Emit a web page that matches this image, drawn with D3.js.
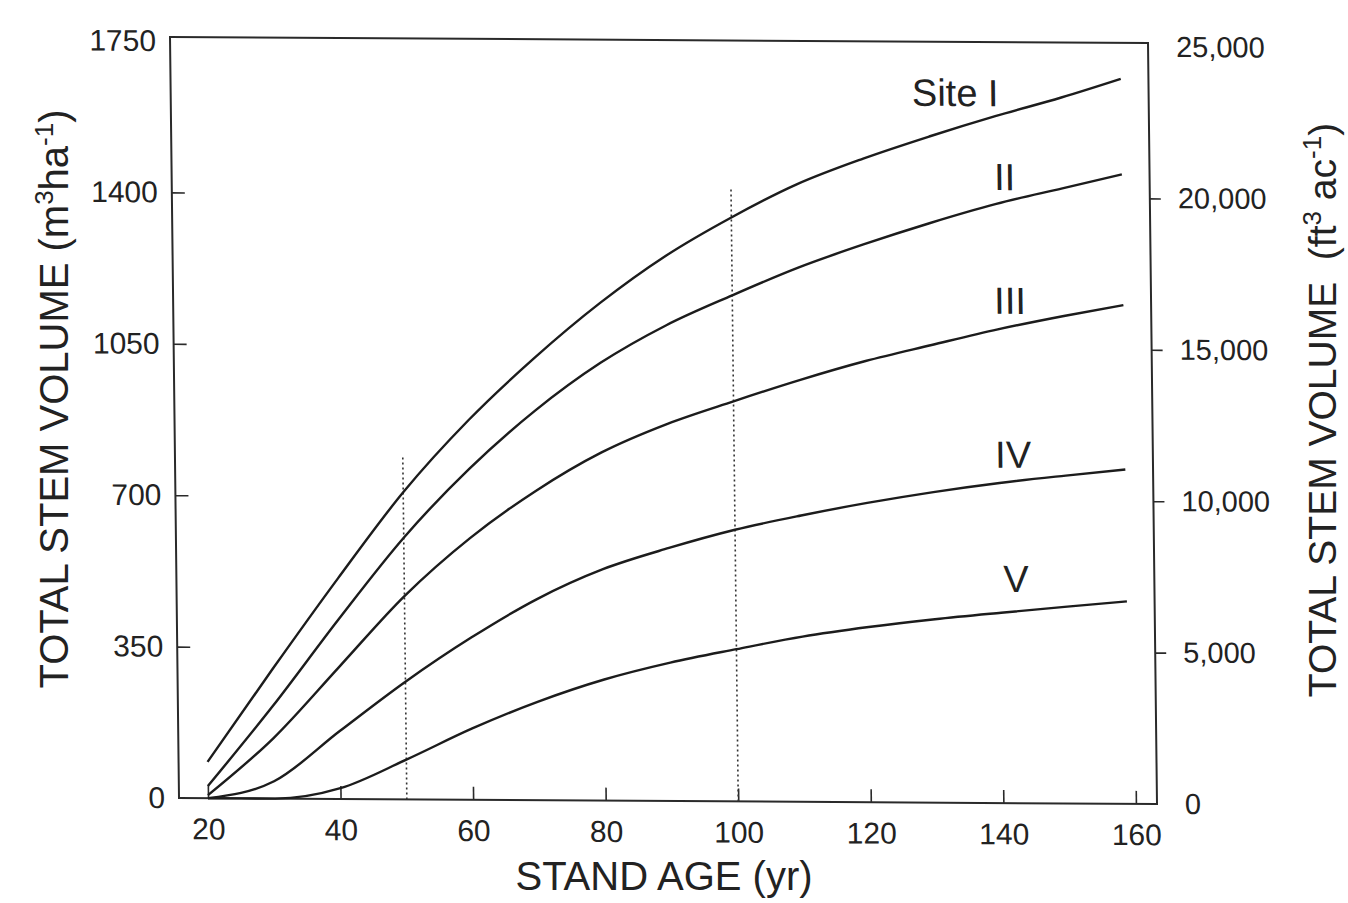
<!DOCTYPE html>
<html>
<head>
<meta charset="utf-8">
<script src="https://cdn.jsdelivr.net/npm/d3@7"></script>
<style>
    body { margin: 0; background: #fff; }
    text { font-family: 'Liberation Sans', Arial, sans-serif; fill: #222; }
</style>
</head>
<body>
<svg id="chart" width="1348" height="903"></svg>
<script>
// stand age (yr)
const ages = [20, 30, 40, 50, 60, 70, 80, 90, 100, 110, 120, 130, 140, 150, 159];
// total stem volume, m3/ha, by site class
const siteI = [84, 300, 510, 710, 878, 1022, 1150, 1260, 1350, 1428, 1488, 1540, 1588, 1632, 1676];
const siteII = [28, 215, 415, 605, 765, 900, 1012, 1100, 1170, 1235, 1290, 1340, 1385, 1422, 1455];
const siteIII = [7, 140, 305, 470, 605, 715, 805, 872, 925, 975, 1020, 1058, 1095, 1127, 1153];
const siteIV = [0, 40, 157, 272, 375, 465, 535, 585, 628, 662, 692, 718, 740, 758, 773];
const siteV = [0, 0, 25, 92, 165, 228, 280, 320, 352, 382, 405, 424, 440, 455, 468];

const siteNames = ['Site I', 'II', 'III', 'IV', 'V'];
const labelAges = [134, 141.3, 141.9, 142.1, 142.3];
const labelValues = [1611, 1417, 1131, 775, 488];

// dotted reference ages and how high they reach
const refAges = [50, 100];
const refTops = [794, 1418];

const xTicks = [20, 40, 60, 80, 100, 120, 140, 160];
const leftTicks = [0, 350, 700, 1050, 1400, 1750];
const rightTicks = [0, 5000, 10000, 15000, 20000, 25000];

const series = [siteI, siteII, siteIII, siteIV, siteV];

const width = 978;
const height = 761;

const svg = d3.select('#chart');
// the scanned figure is a little skewed, follow it
const g = svg.append('g')
.attr('transform', 'matrix(1,0.00614,0.01183,1,170,37)');

const x = d3.scaleLinear().domain([ 20, 160 ]).range([ 29, 29 + 140 * 6.628 ]);
const yL = d3.scaleLinear().domain([ 0, 1750 ]).range([ height, 4 ]);
const yR = d3.scaleLinear().domain([ 0, 25000 ]).range([ height, 4 ]);

// frame
g.append('rect')
.attr('width', width)
.attr('height', height)
.attr('fill', 'none')
.attr('stroke', '#2a2a2a')
.attr('stroke-width', 2);

const xAxis = g.append('g')
.attr('transform', 'translate(0,' + height + ')')
.call(d3.axisBottom(x).tickValues(xTicks).tickSizeInner(-13).tickSizeOuter(0).tickPadding(20));

const leftAxis = g.append('g')
.call(d3.axisLeft(yL).tickValues(leftTicks).tickFormat(d3.format('d')).tickSizeInner(-13).tickSizeOuter(0).tickPadding(14));

const rightAxis = g.append('g')
.attr('transform', 'translate(' + width + ',0)')
.call(d3.axisRight(yR).tickValues(rightTicks).tickFormat(d3.format(',')).tickSizeInner(11).tickSizeOuter(0).tickPadding(17));

[ xAxis, leftAxis, rightAxis ].forEach(ax => {
    ax.select('.domain').remove();
    ax.selectAll('line').attr('stroke', '#2a2a2a').attr('stroke-width', 1.6);
    ax.selectAll('text').attr('fill', '#222').style('font-size', '30px');
});
rightAxis.selectAll('text').style('font-size', '29px').attr('fill', '#333');
leftAxis.selectAll('.tick').filter(d => d === 0 || d === 1750).select('line').remove();
rightAxis.selectAll('.tick').filter(d => d === 0 || d === 25000).select('line').remove();

// dotted reference lines
g.selectAll('.ref')
.data(refAges)
.enter()
.append('line')
.attr('class', 'ref')
.attr('x1', d => x(d))
.attr('x2', d => x(d))
.attr('y1', yL(0))
.attr('y2', (d, i) => yL(refTops[i]))
.attr('stroke', '#333')
.attr('stroke-width', 1.6)
.attr('stroke-dasharray', '2,3');

const line = d3.line()
.x((d, i) => x(ages[i]))
.y(d => yL(d))
.curve(d3.curveMonotoneX);

g.selectAll('.site')
.data(series)
.enter()
.append('path')
.attr('class', 'site')
.attr('d', line)
.attr('fill', 'none')
.attr('stroke', '#1c1c1c')
.attr('stroke-width', 2.4);

g.selectAll('.site-label')
.data(siteNames)
.enter()
.append('text')
.attr('class', 'site-label')
.attr('x', (d, i) => x(labelAges[i]))
.attr('y', (d, i) => yL(labelValues[i]))
.attr('text-anchor', 'middle')
.style('font-size', '38px')
.text(d => d);

// axis titles
svg.append('text')
.attr('x', 664)
.attr('y', 890)
.attr('text-anchor', 'middle')
.style('font-size', '40px')
.text('STAND AGE (yr)');

const leftTitle = svg.append('text')
.attr('transform', 'translate(68,399) rotate(-90)')
.attr('text-anchor', 'middle')
.style('font-size', '40px');
leftTitle.append('tspan').text('TOTAL STEM VOLUME (m');
leftTitle.append('tspan').attr('dy', -15).style('font-size', '26px').text('3');
leftTitle.append('tspan').attr('dy', 15).text('ha');
leftTitle.append('tspan').attr('dy', -15).style('font-size', '26px').text('-1');
leftTitle.append('tspan').attr('dy', 15).text(')');

const rightTitle = svg.append('text')
.attr('transform', 'translate(1336,410) rotate(-90)')
.attr('text-anchor', 'middle')
.style('font-size', '39px')
.style('white-space', 'pre');
rightTitle.append('tspan').text('TOTAL STEM VOLUME  (ft');
rightTitle.append('tspan').attr('dy', -15).style('font-size', '26px').text('3');
rightTitle.append('tspan').attr('dy', 15).text(' ac');
rightTitle.append('tspan').attr('dy', -15).style('font-size', '26px').text('-1');
rightTitle.append('tspan').attr('dy', 15).text(')');
</script>
</body>
</html>
